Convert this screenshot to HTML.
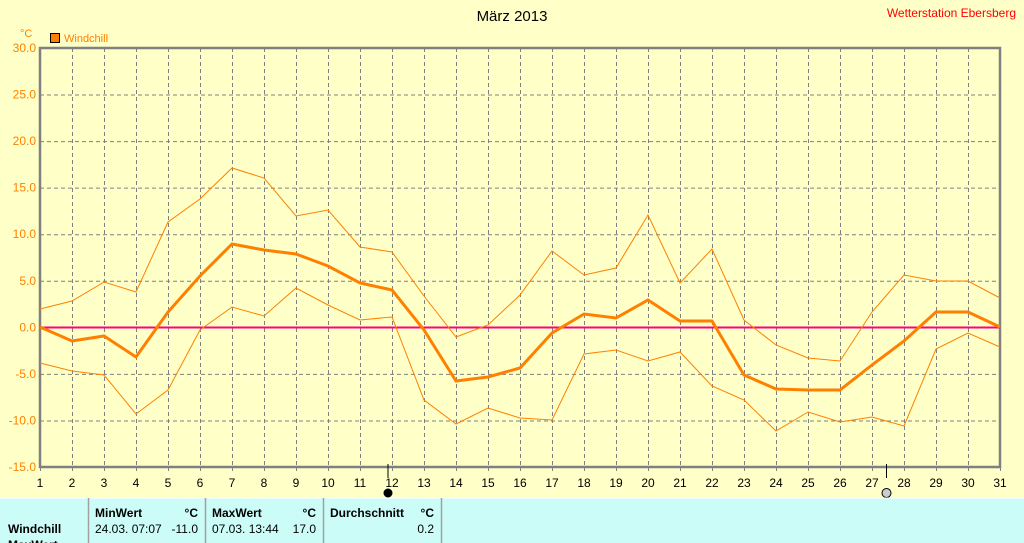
<!DOCTYPE html>
<html><head><meta charset="utf-8"><style>
body{margin:0;background:#ffffc8;width:1024px;height:543px;overflow:hidden;font-family:"Liberation Sans",sans-serif}
svg{position:absolute;left:0;top:0}
</style></head><body>
<svg width="1024" height="543" xmlns="http://www.w3.org/2000/svg" font-family="Liberation Sans, sans-serif">
<rect width="1024" height="543" fill="#ffffc8"/>
<text x="512" y="21" font-size="15" text-anchor="middle" fill="#000">März 2013</text>
<text x="1016" y="17" font-size="12" text-anchor="end" fill="#ff0000">Wetterstation Ebersberg</text>
<text x="20" y="37" font-size="11" fill="#ff8000">°C</text>
<rect x="50.5" y="33.5" width="9" height="9" fill="#ff8000" stroke="#000"/>
<text x="64" y="42" font-size="11" fill="#ff8000">Windchill</text>
<g id="grid" stroke="#808080" stroke-dasharray="4,3" stroke-width="1"></g>
<g id="lbl" font-size="11"></g>
<rect x="40" y="48" width="960" height="419" fill="none" stroke="#808080" stroke-width="2.5"/>
<line x1="40" y1="327.5" x2="1000" y2="327.5" stroke="#ff0080" stroke-width="2"/>
<polyline id="up" fill="none" stroke="#ff8000" stroke-width="1"/>
<polyline id="lo" fill="none" stroke="#ff8000" stroke-width="1"/>
<polyline id="mid" fill="none" stroke="#ff8000" stroke-width="3"/>
<line x1="388" y1="464" x2="388" y2="478" stroke="#000"/>
<circle cx="388" cy="493" r="4.5" fill="#000"/>
<line x1="886.5" y1="464" x2="886.5" y2="478" stroke="#000"/>
<circle cx="886.5" cy="493" r="4.5" fill="#ccc" stroke="#000"/>
<rect x="0" y="498" width="1024" height="45" fill="#ccfcf8"/>
<line x1="0" y1="498" x2="1024" y2="498" stroke="#fff"/>
<g stroke="#a0a0a0" stroke-width="1.5"><line x1="88.5" y1="498" x2="88.5" y2="543"/><line x1="205.5" y1="498" x2="205.5" y2="543"/><line x1="323.5" y1="498" x2="323.5" y2="543"/><line x1="441.5" y1="498" x2="441.5" y2="543"/></g>
<g font-size="12" fill="#000">
<text x="95" y="517" font-weight="bold">MinWert</text><text x="198" y="517" font-weight="bold" text-anchor="end">°C</text>
<text x="212" y="517" font-weight="bold">MaxWert</text><text x="316" y="517" font-weight="bold" text-anchor="end">°C</text>
<text x="330" y="517" font-weight="bold">Durchschnitt</text><text x="434" y="517" font-weight="bold" text-anchor="end">°C</text>
<text x="8" y="533" font-weight="bold">Windchill</text>
<text x="95" y="533">24.03.  07:07</text><text x="198" y="533" text-anchor="end">-11.0</text>
<text x="212" y="533">07.03.  13:44</text><text x="316" y="533" text-anchor="end">17.0</text>
<text x="434" y="533" text-anchor="end">0.2</text>
<text x="8" y="549" font-weight="bold">MaxWert</text>
</g>
</svg>
<script>
var ns="http://www.w3.org/2000/svg";
var g=document.getElementById('grid'),l=document.getElementById('lbl');
function X(d){return 40+(d-1)*32}
function el(p,t,a,txt){var e=document.createElementNS(ns,t);for(var k in a)e.setAttribute(k,a[k]);if(txt!=null)e.textContent=txt;p.appendChild(e);}
for(var d=1;d<=31;d++){var x=X(d)+0.5;if(d>1&&d<31)el(g,'line',{x1:x,y1:48,x2:x,y2:467});
el(l,'line',{x1:x,y1:467,x2:x,y2:471,stroke:'#808080'});
el(l,'text',{x:X(d),y:487,'text-anchor':'middle',fill:'#000','font-size':12},d);}
for(var i=0;i<=9;i++){var v=30-5*i,y=48+i*419/9;if(i>0&&i<9)el(g,'line',{x1:40,y1:y+0.5,x2:1000,y2:y+0.5});
el(l,'text',{x:36,y:y+4,'text-anchor':'end',fill:'#ff8000','font-size':12},v.toFixed(1));}
var mid=[327,341,336,357,312,276,244,250,254,266,283,290,330,381,377,368,333,314,318,300,321,321,375,389,390,390,365,341,312,312,327];
var up=[309,301,282,292,222,199,168,178,216,210,247,252,296,337,325,295,251,275,268,215,283,249,320,345,358,361,312,275,281,281,298];
var lo=[363,371,375,414,390,330,307,316,288,305,320,317,400,424,408,418,420,354,350,361,352,386,400,431,412,422,417,426,349,333,347];
function pts(a){return a.map(function(v,i){return X(i+1)+','+v}).join(' ')}
document.getElementById('mid').setAttribute('points',pts(mid));
document.getElementById('up').setAttribute('points',pts(up));
document.getElementById('lo').setAttribute('points',pts(lo));
</script>
</body></html>
